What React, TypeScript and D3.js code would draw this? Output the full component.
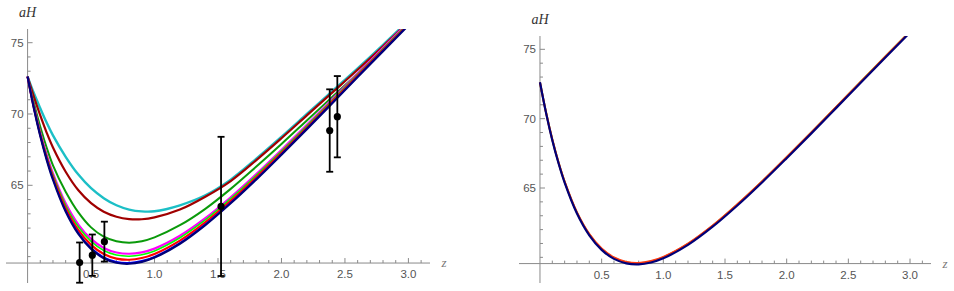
import React from "react";
import * as d3 from "d3";

// ---- data ----
const zGrid = [0, 0.05, 0.1, 0.15, 0.2, 0.3, 0.4, 0.5, 0.6, 0.7, 0.8, 0.9, 1.0, 1.2, 1.4, 1.6, 1.8, 2.0, 2.2, 2.4, 2.6, 2.8, 3.0, 3.2];

const cyanCurve = [72.62, 71.45, 70.4, 69.4, 68.5, 67.0, 65.75, 64.8, 64.1, 63.6, 63.3, 63.17, 63.18, 63.6, 64.3, 65.4, 66.85, 68.4, 70.0, 71.6, 73.2, 74.85, 76.55, 78.25];
const darkRedCurve = [72.62, 71.2, 69.9, 68.7, 67.65, 65.95, 64.65, 63.75, 63.15, 62.8, 62.63, 62.62, 62.75, 63.3, 64.2, 65.3, 66.75, 68.3, 69.9, 71.5, 73.1, 74.75, 76.45, 78.15];
const darkGreenCurve = [72.62, 70.75, 69.1, 67.65, 66.4, 64.55, 63.1, 62.05, 61.4, 61.08, 60.98, 61.08, 61.35, 62.2, 63.35, 64.75, 66.3, 67.9, 69.55, 71.2, 72.85, 74.6, 76.35, 78.1];
const magentaCurve = [72.62, 70.51, 68.7, 67.16, 65.84, 63.74, 62.25, 61.24, 60.61, 60.29, 60.2, 60.3, 60.56, 61.46, 62.69, 64.16, 65.77, 67.48, 69.24, 71.03, 72.84, 74.64, 76.43, 78.22];
const greenCurve = [72.62, 70.48, 68.64, 67.07, 65.73, 63.6, 62.09, 61.07, 60.43, 60.11, 60.03, 60.13, 60.4, 61.32, 62.57, 64.06, 65.68, 67.4, 69.17, 70.96, 72.78, 74.58, 76.38, 78.17];
const redCurve = [72.62, 70.43, 68.55, 66.94, 65.57, 63.39, 61.85, 60.82, 60.18, 59.86, 59.78, 59.9, 60.18, 61.12, 62.4, 63.91, 65.55, 67.28, 69.06, 70.87, 72.69, 74.5, 76.3, 78.1];
const blueCurve = [72.62, 70.4, 68.48, 66.84, 65.44, 63.22, 61.66, 60.61, 59.96, 59.64, 59.57, 59.7, 60.0, 60.96, 62.26, 63.78, 65.44, 67.19, 68.97, 70.79, 72.62, 74.44, 76.24, 78.04];
const navyCurve = [72.62, 70.38, 68.45, 66.8, 65.39, 63.16, 61.59, 60.54, 59.89, 59.57, 59.5, 59.63, 59.93, 60.9, 62.21, 63.74, 65.4, 67.15, 68.94, 70.76, 72.59, 74.41, 76.22, 78.02];

const rightOliveCurve = [72.62, 70.42, 68.5, 66.85, 65.45, 63.22, 61.66, 60.61, 59.96, 59.64, 59.57, 59.7, 60.0, 60.97, 62.28, 63.81, 65.47, 67.22, 69.01, 70.83, 72.66, 74.48, 76.29, 78.09];
const rightOrangeCurve = [72.62, 70.41, 68.5, 66.86, 65.46, 63.24, 61.68, 60.64, 59.99, 59.67, 59.6, 59.73, 60.03, 60.99, 62.29, 63.82, 65.47, 67.22, 69.0, 70.82, 72.64, 74.46, 76.27, 78.07];
const rightNavyCurve = [72.62, 70.38, 68.45, 66.8, 65.39, 63.16, 61.59, 60.54, 59.89, 59.57, 59.5, 59.63, 59.93, 60.9, 62.21, 63.74, 65.4, 67.15, 68.94, 70.76, 72.59, 74.41, 76.22, 78.02];

const dataZ = [0.41, 0.51, 0.605, 1.524, 2.38, 2.44];
const dataAH = [59.58, 60.1, 61.05, 63.52, 68.84, 69.81];
const dataErr = [1.41, 1.45, 1.4, 4.88, 2.89, 2.85];

const xMajorTicks = [0.5, 1.0, 1.5, 2.0, 2.5, 3.0];
const xTickLabels = ["0.5", "1.0", "1.5", "2.0", "2.5", "3.0"];
const yMajorTicks = [65, 70, 75];
const yTickLabels = ["65", "70", "75"];

const xDomain = [-0.17, 3.17];
const yDomain = [58.15, 75.96];
const axisCrossY = 59.55;

type Series = { values: number[]; color: string; width: number };

const leftSeries: Series[] = [
  { values: cyanCurve, color: "#1cbfc6", width: 2.4 },
  { values: darkRedCurve, color: "#a00000", width: 2.2 },
  { values: darkGreenCurve, color: "#0a9a0a", width: 2 },
  { values: magentaCurve, color: "#ff00ff", width: 2.2 },
  { values: greenCurve, color: "#00ff00", width: 1.6 },
  { values: redCurve, color: "#ff0000", width: 2.2 },
  { values: blueCurve, color: "#0000ff", width: 1.6 },
  { values: navyCurve, color: "#000078", width: 2.2 },
];

const rightSeries: Series[] = [
  { values: rightOliveCurve, color: "#a8a000", width: 2 },
  { values: rightOrangeCurve, color: "#ff3a10", width: 2 },
  { values: rightNavyCurve, color: "#000078", width: 2.2 },
];

type PanelProps = {
  id: string;
  xr: [number, number];
  yr: [number, number];
  series: Series[];
  showData: boolean;
};

function Panel({ id, xr, yr, series, showData }: PanelProps) {
  const x = d3.scaleLinear().domain(xDomain).range(xr);
  const y = d3.scaleLinear().domain(yDomain).range(yr);
  const x0 = x(0);
  const yAxis = y(axisCrossY);
  const line = d3
    .line<number>()
    .x((_, i) => x(zGrid[i]))
    .y((v) => y(v))
    .curve(d3.curveCatmullRom.alpha(0.5));

  const xMinor = d3.range(1, 32).map((k) => k / 10).filter((t) => Math.abs(t * 2 - Math.round(t * 2)) > 1e-6);
  const yMinor = d3.range(60, 76).filter((t) => !yMajorTicks.includes(t));
  const axisColor = "#8a8a8a";
  const labelColor = "#555";

  return (
    <g>
      <defs>
        <clipPath id={id}>
          <rect x={xr[0]} y={yr[1]} width={xr[1] - xr[0]} height={yr[0] - yr[1]} />
        </clipPath>
      </defs>
      {/* axes */}
      <line x1={xr[0]} x2={xr[1]} y1={yAxis} y2={yAxis} stroke={axisColor} strokeWidth={1} />
      <line x1={x0} x2={x0} y1={yr[1]} y2={yr[0]} stroke={axisColor} strokeWidth={1} />
      {xMinor.map((t) => (
        <line key={"xm" + t} x1={x(t)} x2={x(t)} y1={yAxis} y2={yAxis - 3} stroke={axisColor} strokeWidth={1} />
      ))}
      {xMajorTicks.map((t, i) => (
        <g key={"xM" + t}>
          <line x1={x(t)} x2={x(t)} y1={yAxis} y2={yAxis - 5} stroke={axisColor} strokeWidth={1} />
          <text x={x(t)} y={yAxis + 15} textAnchor="middle" fontFamily="Liberation Sans, Arial, sans-serif" fontSize={11.5} fill={labelColor}>
            {xTickLabels[i]}
          </text>
        </g>
      ))}
      {yMinor.map((t) => (
        <line key={"ym" + t} x1={x0} x2={x0 + 3} y1={y(t)} y2={y(t)} stroke={axisColor} strokeWidth={1} />
      ))}
      {yMajorTicks.map((t, i) => (
        <g key={"yM" + t}>
          <line x1={x0} x2={x0 + 5} y1={y(t)} y2={y(t)} stroke={axisColor} strokeWidth={1} />
          <text x={x0 - 4} y={y(t) + 4} textAnchor="end" fontFamily="Liberation Sans, Arial, sans-serif" fontSize={11.5} fill={labelColor}>
            {yTickLabels[i]}
          </text>
        </g>
      ))}
      <text x={xr[1] + 14} y={yAxis + 4} textAnchor="middle" fontFamily="Liberation Serif, Times New Roman, serif" fontStyle="italic" fontSize={13} fill="#777">
        z
      </text>
      <text x={x0} y={yr[1] - 12} textAnchor="middle" fontFamily="Liberation Serif, Times New Roman, serif" fontStyle="italic" fontSize={14} fill="#333">
        aH
      </text>
      {/* curves */}
      <g clipPath={`url(#${id})`}>
        {series.map((s, i) => (
          <path key={i} d={line(s.values) || ""} fill="none" stroke={s.color} strokeWidth={s.width} strokeLinejoin="round" />
        ))}
      </g>
      {/* data with error bars */}
      {showData &&
        dataZ.map((z, i) => {
          const cx = x(z);
          const top = y(dataAH[i] + dataErr[i]);
          const bot = y(dataAH[i] - dataErr[i]);
          return (
            <g key={"d" + i}>
              <line x1={cx} x2={cx} y1={top} y2={bot} stroke="#000" strokeWidth={1.8} />
              <line x1={cx - 3.5} x2={cx + 3.5} y1={top} y2={top} stroke="#000" strokeWidth={1.8} />
              <line x1={cx - 3.5} x2={cx + 3.5} y1={bot} y2={bot} stroke="#000" strokeWidth={1.8} />
              <circle cx={cx} cy={y(dataAH[i])} r={3.6} fill="#000" />
            </g>
          );
        })}
    </g>
  );
}

export default function App() {
  return (
    <svg
      width={954}
      height={291}
      style={{ position: "absolute", left: 0, top: 0, background: "#fff" }}
    >
      <rect width={954} height={291} fill="#fff" />
      <Panel id="clipL" xr={[6, 430]} yr={[283, 29]} series={leftSeries} showData={true} />
      <Panel id="clipR" xr={[519, 931]} yr={[283, 36]} series={rightSeries} showData={false} />
    </svg>
  );
}
